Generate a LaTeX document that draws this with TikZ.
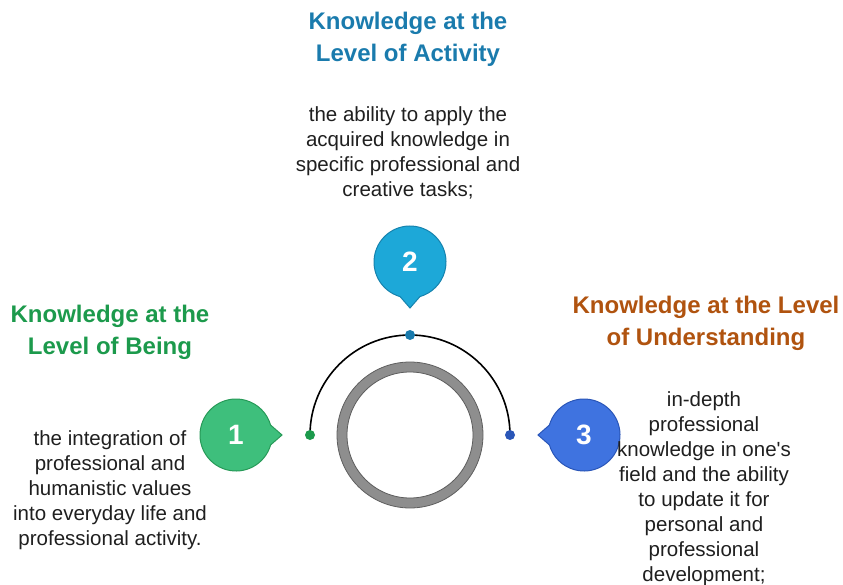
\documentclass[tikz,border=0pt]{standalone}
\usepackage{fontspec}
\usetikzlibrary{calc}
\setmainfont{Liberation Sans}
\definecolor{beingc}{HTML}{1C9A4C}
\definecolor{activc}{HTML}{1A7BAD}
\definecolor{underc}{HTML}{B0530F}
\definecolor{bubA}{HTML}{3EBF7C}
\definecolor{bubAline}{HTML}{279A58}
\definecolor{bubB}{HTML}{1DA8D8}
\definecolor{bubBline}{HTML}{1683AE}
\definecolor{bubC}{HTML}{3F73E0}
\definecolor{bubCline}{HTML}{2A56B8}
\definecolor{ringc}{HTML}{8E8E8E}
\definecolor{ringline}{HTML}{5E5E5E}
\begin{document}
\begin{tikzpicture}[x=1pt, y=-1pt,
  title/.style = {align=center, font=\fontsize{24}{32}\selectfont\bfseries},
  body/.style = {align=center, text=black!88, font=\fontsize{20.5}{25}\selectfont},
  num/.style = {text=white, font=\fontsize{28}{30}\selectfont\bfseries},
  dotc/.style = {circle, inner sep=0pt, minimum size=10pt}]
  \useasboundingbox (0,0) rectangle (843,585);
  % ring in the middle
  \coordinate (c) at (410,435);
  \draw[fill=ringc, draw=ringline, line width=0.8pt, even odd rule]
    (c) circle[radius=73] (c) circle[radius=63];
  % arc with the three dots
  \coordinate (d1) at (310,435);
  \coordinate (d2) at (410,335);
  \coordinate (d3) at (510,435);
  \draw[line width=1.6pt] (d1) arc[start angle=180, end angle=360, radius=100];
  \node[dotc, fill=beingc] at (d1) {};
  \node[dotc, fill=activc] at (d2) {};
  \node[dotc, fill=bubCline] at (d3) {};
  % the three bubbles
  \coordinate (b1) at (236,435);
  \coordinate (b2) at (410,262);
  \coordinate (b3) at (584,435);
  \draw[fill=bubA, draw=bubAline, line width=1pt]
    (b1) ++(16:36) arc[start angle=16, end angle=344, radius=36] -- ($(b1)+(46,0)$) -- cycle;
  \draw[fill=bubB, draw=bubBline, line width=1pt]
    (b2) ++(106:36) arc[start angle=106, end angle=434, radius=36] -- ($(b2)+(0,46)$) -- cycle;
  \draw[fill=bubC, draw=bubCline, line width=1pt]
    (b3) ++(196:36) arc[start angle=196, end angle=524, radius=36] -- ($(b3)+(-46,0)$) -- cycle;
  \node[num] (n1) at (b1) {1};
  \node[num] (n2) at (b2) {2};
  \node[num] (n3) at (b3) {3};
  % texts
  \node[title, text=activc] (t2) at (408,39) {Knowledge at the\\Level of Activity};
  \node[body] (x2) at (408,153) {the ability to apply the\\acquired knowledge in\\specific professional and\\creative tasks;};
  \node[title, text=beingc] (t1) at (110,332) {Knowledge at the\\Level of Being};
  \node[body] (x1) at (110,490) {the integration of\\professional and\\humanistic values\\into everyday life and\\professional activity.};
  \node[title, text=underc] (t3) at (706,323) {Knowledge at the Level\\of Understanding};
  \node[body] (x3) at (704,489) {in-depth\\professional\\knowledge in one\textquotesingle s\\field and the ability\\to update it for\\personal and\\professional\\development;};
\end{tikzpicture}
\end{document}
